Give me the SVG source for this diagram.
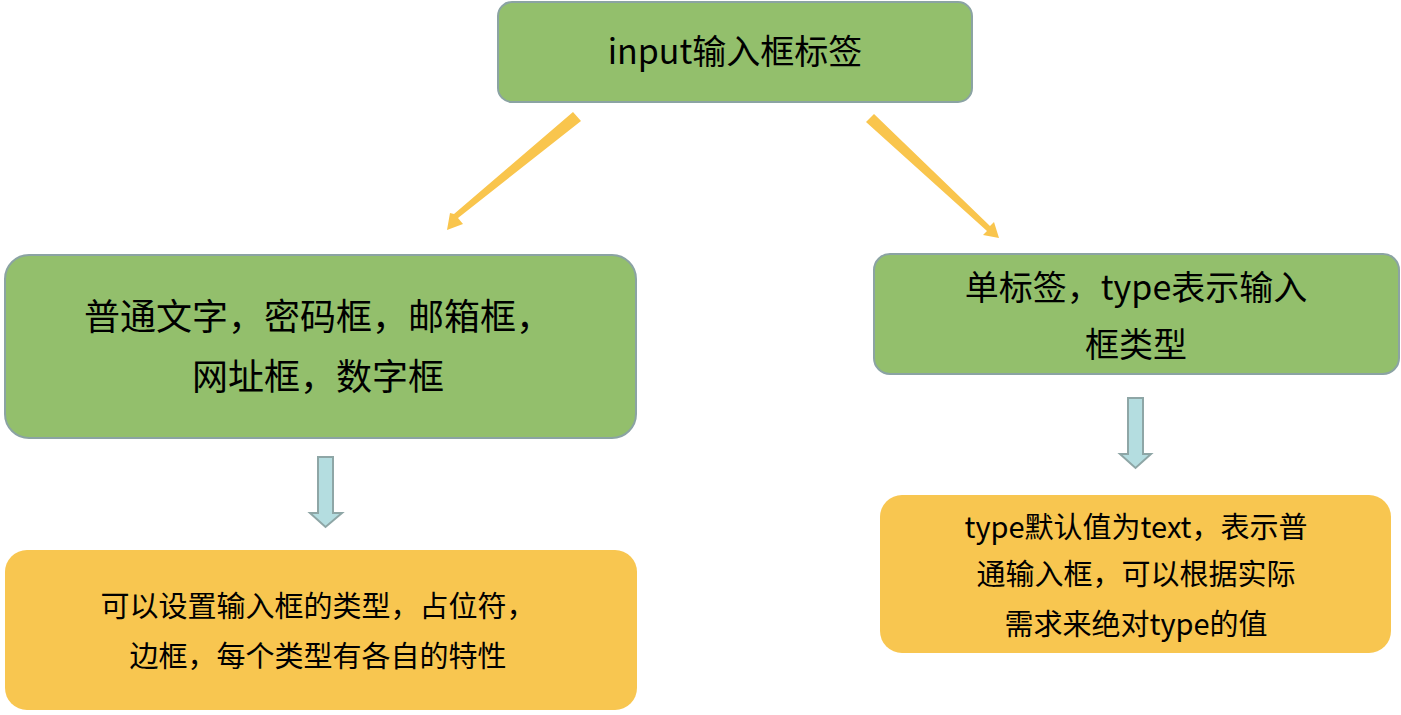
<svg xmlns="http://www.w3.org/2000/svg" width="1401" height="715" viewBox="0 0 1401 715">
<style>
.g{fill:#93BF6C;stroke:#8BA3A3;stroke-width:2}
.o{fill:#F8C650;stroke:none}
.t{font-family:"Noto Sans CJK SC","Noto Sans",sans-serif;fill:#000;text-anchor:middle}
.ya{fill:#F9C54D}
.da{fill:#B4DDE0;stroke:#8EA6A6;stroke-width:2}
</style>
<rect width="1401" height="715" fill="#fff"/>
<g id="n-top"><rect class="g" x="498" y="2" width="474" height="100" rx="14"/><text class="t" x="735" y="64" font-size="34">input输入框标签</text></g>
<g id="n-left"><rect class="g" x="5" y="255" width="631" height="183" rx="24"/><text class="t" x="318" y="330" font-size="36">普通文字，密码框，邮箱框，</text><text class="t" x="318" y="390" font-size="36">网址框，数字框</text></g>
<g id="n-right"><rect class="g" x="874" y="254" width="525" height="120" rx="16"/><text class="t" x="1136" y="300" font-size="34">单标签，type表示输入</text><text class="t" x="1136" y="357" font-size="34">框类型</text></g>
<g id="n-lo"><rect class="o" x="5" y="550" width="632" height="160" rx="22"/><text class="t" x="318" y="617" font-size="29">可以设置输入框的类型，占位符，</text><text class="t" x="318" y="667" font-size="29">边框，每个类型有各自的特性</text></g>
<g id="n-ro"><rect class="o" x="880" y="495" width="511" height="158" rx="22"/><text class="t" x="1136" y="538" font-size="29">type默认值为text，表示普</text><text class="t" x="1136" y="585" font-size="29">通输入框，可以根据实际</text><text class="t" x="1136" y="635" font-size="29">需求来绝对type的值</text></g>
<g id="connectors">
<polygon class="ya" points="573,112 581,121 458,218 463,224 447,230 450,213 454,214"/>
<polygon class="ya" points="866,122 874,114 990,226 994,222 999,238 983,235 987,231"/>
<polygon class="da" points="318,457 333,457 333,513 342,513 325.5,527 310,513 318,513"/>
<polygon class="da" points="1128,398 1143,398 1143,454 1151,454 1135.5,468 1120,454 1128,454"/>
</g>
</svg>
